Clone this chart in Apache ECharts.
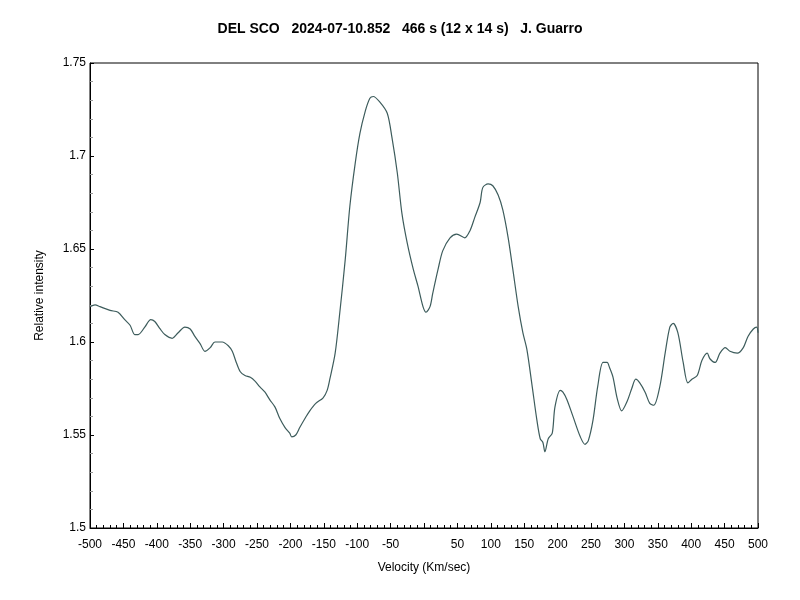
<!DOCTYPE html>
<html><head><meta charset="utf-8">
<script src="https://cdn.jsdelivr.net/npm/echarts@6/dist/echarts.min.js"></script>
<style>html,body{margin:0;padding:0;background:#fff}#c{width:800px;height:600px}</style>
</head><body><div id="c"></div>
<script>
const velocity = [-500,-492.5,-485,-470,-458,-448,-440,-433,-428,-418,-409,-403,-395,-388,-377,-368,-358,-350,-343,-335,-328,-320,-313,-302,-293,-287,-281,-275,-268,-260,-253,-246,-238,-231,-223,-216,-208,-201,-198,-192,-186,-178,-171,-162,-151,-145,-141,-133,-126,-118,-111,-103,-96,-88,-81,-76,-66,-55,-48,-40,-33,-25,-16,-9,-1.5,3,9,13,21,28,39,49,61,69,76,84,88,96,103,111,118,126,133,141,148,154,162,169,174,178,181,186,192,196,204,208,214,223,234,241,246,253,260,268,274,278,283,289,296,304,311,317,323,331,338,344,353,361,368,373,380,388,395,401,409,416,424,428,436,443,451,458,469,478,485,493,498,500];
const intensity = [1.619,1.620,1.619,1.617,1.616,1.612,1.609,1.604,1.604,1.608,1.612,1.611,1.607,1.604,1.602,1.605,1.608,1.607,1.603,1.599,1.595,1.597,1.600,1.600,1.598,1.595,1.589,1.584,1.582,1.581,1.579,1.576,1.573,1.569,1.565,1.559,1.554,1.551,1.549,1.550,1.554,1.559,1.563,1.567,1.570,1.574,1.580,1.594,1.616,1.644,1.673,1.696,1.712,1.724,1.731,1.732,1.729,1.723,1.710,1.691,1.669,1.653,1.639,1.630,1.619,1.616,1.619,1.626,1.639,1.649,1.656,1.658,1.656,1.660,1.667,1.675,1.683,1.685,1.684,1.679,1.671,1.656,1.639,1.619,1.605,1.596,1.576,1.558,1.548,1.546,1.541,1.548,1.551,1.565,1.574,1.573,1.569,1.560,1.549,1.545,1.547,1.558,1.576,1.589,1.589,1.586,1.581,1.570,1.563,1.568,1.575,1.580,1.578,1.573,1.567,1.566,1.576,1.594,1.608,1.610,1.605,1.589,1.578,1.580,1.582,1.590,1.594,1.591,1.589,1.594,1.597,1.595,1.594,1.597,1.603,1.607,1.608,1.605];
const titleText = 'DEL SCO   2024-07-10.852   466 s (12 x 14 s)   J. Guarro';
const xName = 'Velocity (Km/sec)';
const yName = 'Relative intensity';

const font = '"Liberation Sans", Arial, sans-serif';
const chart = echarts.init(document.getElementById('c'), null, {renderer: 'canvas'});
chart.setOption({
  animation: false,
  backgroundColor: '#fff',
  title: {
    text: titleText, left: 'center', top: 17,
    textStyle: {fontFamily: font, fontSize: 14, fontWeight: 'bold', color: '#000'}
  },
  grid: {left: 90, right: 42, top: 63, bottom: 72, show: true, borderColor: '#000', borderWidth: 1, backgroundColor: 'transparent'},
  xAxis: {
    type: 'value', min: -500, max: 500, interval: 50,
    name: xName, nameLocation: 'middle', nameGap: 34,
    nameTextStyle: {fontFamily: font, fontSize: 12, color: '#000'},
    axisLine: {show: true, onZero: false, lineStyle: {color: '#000', width: 1}},
    axisTick: {show: true, inside: true, length: 5, lineStyle: {color: '#000'}},
    minorTick: {show: true, splitNumber: 5, length: 3, lineStyle: {color: '#000'}},
    splitLine: {show: false},
    axisLabel: {
      fontFamily: font, fontSize: 12, color: '#000', margin: 11,
      showMinLabel: true, showMaxLabel: true,
      formatter: v => (v === 0 ? '' : String(v))
    }
  },
  yAxis: {
    type: 'value', min: 1.5, max: 1.75, interval: 0.05,
    name: yName, nameLocation: 'middle', nameGap: 44, nameRotate: 90,
    nameTextStyle: {fontFamily: font, fontSize: 12, color: '#000'},
    axisLine: {show: true, onZero: false, lineStyle: {color: '#000', width: 1}},
    axisTick: {show: true, inside: true, length: 4, lineStyle: {color: '#000'}},
    minorTick: {show: true, splitNumber: 5, length: 3, lineStyle: {color: '#999'}},
    splitLine: {show: false},
    axisLabel: {fontFamily: font, fontSize: 12, color: '#000', margin: 4,
      formatter: v => String(parseFloat(v.toFixed(2)))}
  },
  series: [{
    type: 'line', showSymbol: false, smooth: 0.3,
    data: velocity.map((v, i) => [v, intensity[i]]),
    lineStyle: {color: '#3d5c5c', width: 1.2}
  }]
});
</script></body></html>
